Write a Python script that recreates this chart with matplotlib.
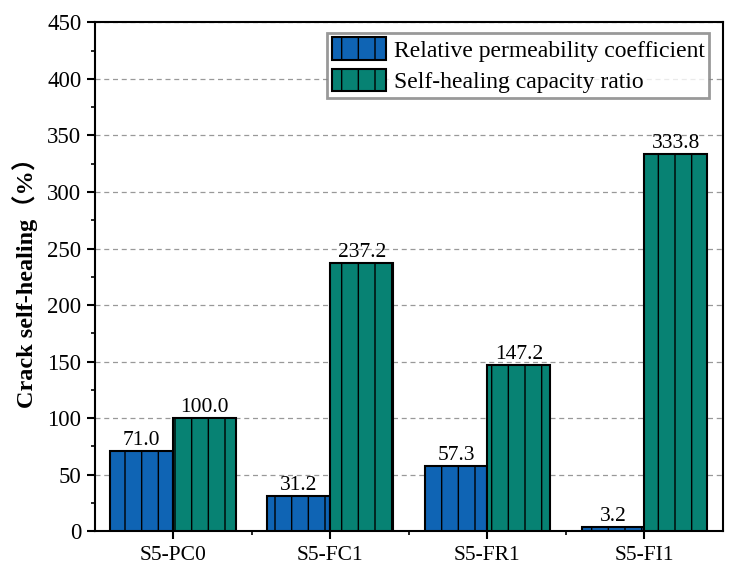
import numpy as np
import matplotlib
matplotlib.use('Agg')
import matplotlib.pyplot as plt
from matplotlib.ticker import MultipleLocator

samples = ['S5-PC0', 'S5-FC1', 'S5-FR1', 'S5-FI1']
perm_coef = [71.0, 31.2, 57.3, 3.2]
heal_ratio = [100.0, 237.2, 147.2, 333.8]

plt.rcParams['font.family'] = ['Liberation Serif', 'Noto Sans CJK SC']
plt.rcParams['hatch.linewidth'] = 1.0
plt.rcParams['hatch.color'] = 'black'

fig = plt.figure(figsize=(7.34, 5.76), dpi=100)
ax = fig.add_axes([0.129, 0.078, 0.856, 0.883])

x = np.arange(len(samples))
w = 0.4
b1 = ax.bar(x - w/2, perm_coef, w, color='#0f64b4', edgecolor='black', linewidth=1.5,
            hatch='|', label='Relative permeability coefficient', zorder=3)
b2 = ax.bar(x + w/2, heal_ratio, w, color='#078273', edgecolor='black', linewidth=1.5,
            hatch='|', label='Self-healing capacity ratio', zorder=3)

for rects, vals in [(b1, perm_coef), (b2, heal_ratio)]:
    for r, v in zip(rects, vals):
        ax.text(r.get_x() + r.get_width()/2, v + 1, '%.1f' % v,
                ha='center', va='bottom', fontsize=15.5)

ax.set_xlim(-0.5, 3.5)
ax.set_ylim(0, 450)
ax.set_xticks(x)
ax.set_xticklabels(samples, fontsize=15.5)
ax.set_xticks(x[:-1] + 0.5, minor=True)
ax.yaxis.set_major_locator(MultipleLocator(50))
ax.yaxis.set_minor_locator(MultipleLocator(25))
ax.tick_params(axis='both', which='major', direction='out', length=6, width=1.5, labelsize=16.5)
ax.tick_params(axis='x', which='major', labelsize=15.5, pad=5)
ax.tick_params(axis='both', which='minor', direction='out', length=3, width=1.2)
ax.set_ylabel('Crack self-healing（%）', fontsize=17.5, fontweight='bold', labelpad=7)

ax.grid(True, axis='y', linestyle=(0, (4, 3)), color='#999999', linewidth=0.9, zorder=0)
for s in ax.spines.values():
    s.set_linewidth(1.5)

leg = ax.legend(loc='upper right', bbox_to_anchor=(0.978, 0.98), fontsize=17,
                frameon=True, fancybox=False, edgecolor='#808080',
                handlelength=2.3, handleheight=1.1, borderpad=0.2,
                labelspacing=0.3, handletextpad=0.3, borderaxespad=0)
leg.get_frame().set_linewidth(2.0)

fig.savefig('out.png', dpi=100)
